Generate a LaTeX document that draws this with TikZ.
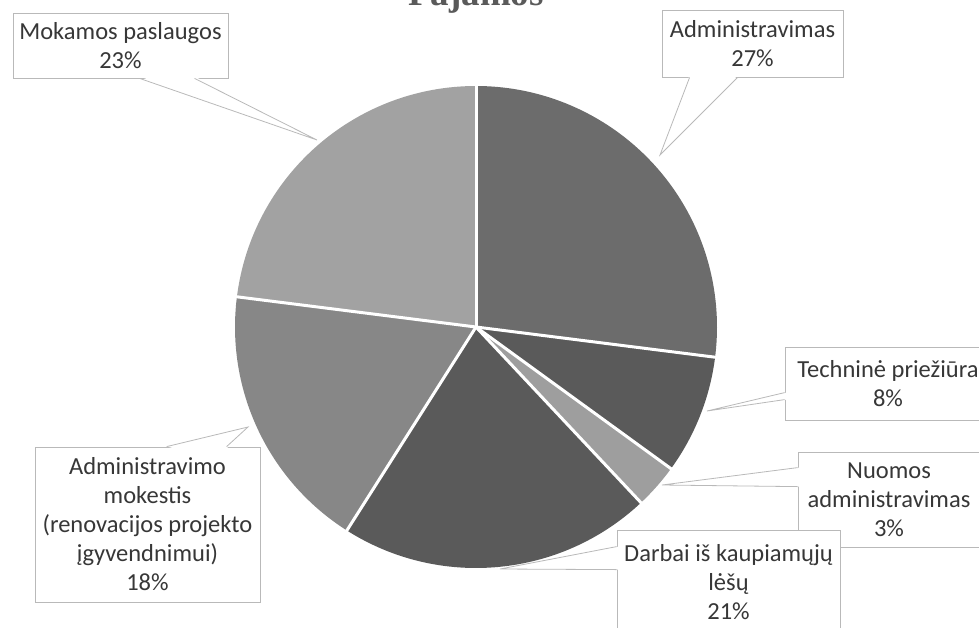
\documentclass[tikz,border=0pt]{standalone}
\usepackage{fontspec}
\setmainfont{Carlito}
\newfontfamily\titlefont{Liberation Serif}
\usetikzlibrary{calc}
\definecolor{sadm}{RGB}{108,108,108}
\definecolor{stech}{RGB}{90,90,90}
\definecolor{snuom}{RGB}{158,158,158}
\definecolor{sdarb}{RGB}{90,90,90}
\definecolor{smok}{RGB}{135,135,135}
\definecolor{spasl}{RGB}{162,162,162}
\definecolor{boxgray}{RGB}{185,185,185}
\definecolor{txtgray}{RGB}{55,55,55}
\definecolor{titlegray}{RGB}{90,90,90}

\begin{document}
\begin{tikzpicture}[x=1pt, y=-1pt,
  lbl/.style={rectangle, draw=boxgray, fill=white, line width=0.8pt, text=txtgray,
              align=center, inner sep=0pt, font=\fontsize{24.5}{29}\selectfont},
  wedge/.style={draw=boxgray, line width=0.8pt},
  sep/.style={white, line width=3pt}]
  \useasboundingbox (0,0) rectangle (979,627);
  \node[font=\titlefont\bfseries\fontsize{37}{40}\selectfont, text=titlegray, anchor=base]
        (title) at (476,5) {Pajamos};

  % pie
  \coordinate (ctr) at (476,327);
  \foreach \a/\b/\c in {90/-7.2/sadm, -7.2/-36/stech, -36/-46.8/snuom,
                        -46.8/-122.4/sdarb, -122.4/-187.2/smok, -187.2/-270/spasl}
    \fill[\c] (ctr) -- ++(\a:241pt) arc[start angle=\a, end angle=\b, radius=241pt] -- cycle;
  \foreach \a in {90,-7.2,-36,-46.8,-122.4,-187.2}
    \draw[sep] (ctr) -- ++(\a:242pt);

  % labels
  \node[lbl, minimum width=215pt, minimum height=65pt] (mokamos) at (120.5,45.5)
        {Mokamos paslaugos\\23\%};
  \node[lbl, minimum width=181pt, minimum height=67pt] (admin) at (752.5,43.5)
        {Administravimas\\27\%};
  \node[lbl, minimum width=206pt, minimum height=73pt] (tech) at (888,383.5)
        {Techninė priežiūra\\8\%};
  \node[lbl, minimum width=182pt, minimum height=95pt] (nuomos) at (889,499.5)
        {Nuomos\\administravimas\\3\%};
  \node[lbl, minimum width=223pt, minimum height=104pt] (darbai) at (728.5,582)
        {Darbai iš kaupiamųjų\\lėšų\\21\%};
  \node[lbl, minimum width=225pt, minimum height=155pt] (mokestis) at (147.5,524.5)
        {Administravimo\\mokestis\\(renovacijos projekto\\įgyvendnimui)\\18\%};

  % callout pointers
  \coordinate (mokamostip) at (317,140);
  \coordinate (admintip) at (660,155);
  \coordinate (techtip) at (707,411);
  \coordinate (nuomostip) at (662,485);
  \coordinate (darbaitip) at (500,569);
  \coordinate (mokestistip) at (248,427);

  \fill[white] ($(mokamos.south west)+(127,-2)$) -- (mokamostip) -- ($(mokamos.south west)+(182,-2)$) -- cycle;
  \draw[wedge] ($(mokamos.south west)+(127,0)$) -- (mokamostip) -- ($(mokamos.south west)+(182,0)$);
  \fill[white] ($(admin.south west)+(28,-2)$) -- (admintip) -- ($(admin.south west)+(76,-2)$) -- cycle;
  \draw[wedge] ($(admin.south west)+(28,0)$) -- (admintip) -- ($(admin.south west)+(76,0)$);
  \fill[white] ($(tech.north west)+(2,46)$) -- (techtip) -- ($(tech.north west)+(2,53)$) -- cycle;
  \draw[wedge] ($(tech.north west)+(0,46)$) -- (techtip) -- ($(tech.north west)+(0,53)$);
  \fill[white] ($(nuomos.north west)+(2,16)$) -- (nuomostip) -- ($(nuomos.north west)+(2,35)$) -- cycle;
  \draw[wedge] ($(nuomos.north west)+(0,16)$) -- (nuomostip) -- ($(nuomos.north west)+(0,35)$);
  \fill[white] ($(darbai.north west)+(2,17)$) -- (darbaitip) -- ($(darbai.north west)+(2,40)$) -- cycle;
  \draw[wedge] ($(darbai.north west)+(0,17)$) -- (darbaitip) -- ($(darbai.north west)+(0,40)$);
  \fill[white] ($(mokestis.north west)+(132,2)$) -- (mokestistip) -- ($(mokestis.north west)+(192,2)$) -- cycle;
  \draw[wedge] ($(mokestis.north west)+(132,0)$) -- (mokestistip) -- ($(mokestis.north west)+(192,0)$);
\end{tikzpicture}
\end{document}
